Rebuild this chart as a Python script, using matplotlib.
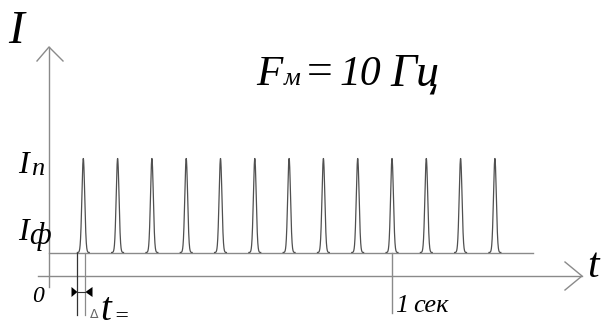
import numpy as np
import matplotlib
matplotlib.use("Agg")
import matplotlib.pyplot as plt

# ---- data ----
pulse_times = [0.1, 0.2, 0.3, 0.4, 0.5, 0.6, 0.7, 0.8, 0.9, 1.0, 1.1, 1.2, 1.3]  # s
I_background = 1.0   # I_ф
I_peak = 5.0         # I_п
pulse_sigma = 0.0041  # s
baseline_end = 1.41  # s
one_second = 1.0
dt_edges = [0.083, 0.106]  # Δt marker lines

# ---- layout (pixel -> data helpers for annotations) ----
X0, SX = 49.0, 343.0     # px of t=0, px per second
Y0, SY = 276.0, 23.5     # px of I=0, px per unit
W, H = 601, 329
def tx(px):
    return (px - X0) / SX
def iy(py):
    return (Y0 - py) / SY

fig = plt.figure(figsize=(W / 100, H / 100), dpi=100)
ax = fig.add_axes([0, 0, 1, 1])
ax.set_xlim(tx(0), tx(W))
ax.set_ylim(iy(H), iy(0))
ax.axis("off")

axis_col = "#8a8a8a"
pulse_col = "#505050"

# axes with open arrows
ax.plot([0, 0], [iy(287), iy(47)], color=axis_col, lw=1.0)
ax.plot([tx(37), 0, tx(63)], [iy(61), iy(47), iy(61)], color=axis_col, lw=1.0)
ax.plot([tx(38), tx(582)], [0, 0], color=axis_col, lw=1.0)
ax.plot([tx(565), tx(582), tx(565)], [iy(262), 0, iy(290)], color=axis_col, lw=1.0)

# background level
ax.plot([0, baseline_end], [I_background, I_background], color=axis_col, lw=1.0)

# pulses
for tc in pulse_times:
    t = np.linspace(tc - 4.2 * pulse_sigma, tc + 4.2 * pulse_sigma, 200)
    y = I_background + (I_peak - I_background) * np.exp(-0.5 * ((t - tc) / pulse_sigma) ** 2)
    ax.plot(t, y, color=pulse_col, lw=0.9)

# 1 second marker
ax.plot([one_second, one_second], [I_background, iy(313)], color=axis_col, lw=1.0)

# Δt marker
ax.plot([dt_edges[0]] * 2, [I_background, iy(315)], color="#333333", lw=0.9)
ax.plot([dt_edges[1]] * 2, [I_background, iy(315)], color=axis_col, lw=0.9)
ya = iy(292)
ax.plot(dt_edges, [ya, ya], color="#333333", lw=0.8)
hh = 5 / SY
ax.fill([tx(71.5), dt_edges[0], tx(71.5)], [ya - hh, ya, ya + hh], color="black", lw=0)
ax.fill([tx(92.5), dt_edges[1], tx(92.5)], [ya - hh, ya, ya + hh], color="black", lw=0)

# ---- texts ----
serif = ["Liberation Serif", "DejaVu Serif"]
def T(px, py, s, size, **kw):
    ax.text(tx(px), iy(py), s, fontsize=size, family=serif, style="italic",
            ha="left", va="baseline", color="black", **kw)

T(8, 43, "I", 34)
T(18, 173, "I", 23)
T(31, 175, "п", 19)
T(18, 240, "I", 23)
T(29, 244, "ф", 22)
T(32, 302, "0", 17)
T(587, 277, "t", 30)
T(395, 312, "1", 19)
T(413, 312, "сек", 19)
ax.text(tx(90), iy(318), "Δ", fontsize=9, family=["DejaVu Sans"], color="#666666",
        ha="left", va="baseline")
T(100, 320, "t", 28)
T(113, 322, "=", 17)

T(256, 85, "F", 31)
T(284, 85, "м", 19)
T(304, 85, "=", 33)
T(340, 85, "10", 30)
T(390, 85, "Гц", 33)

fig.savefig("out.png", dpi=100)
